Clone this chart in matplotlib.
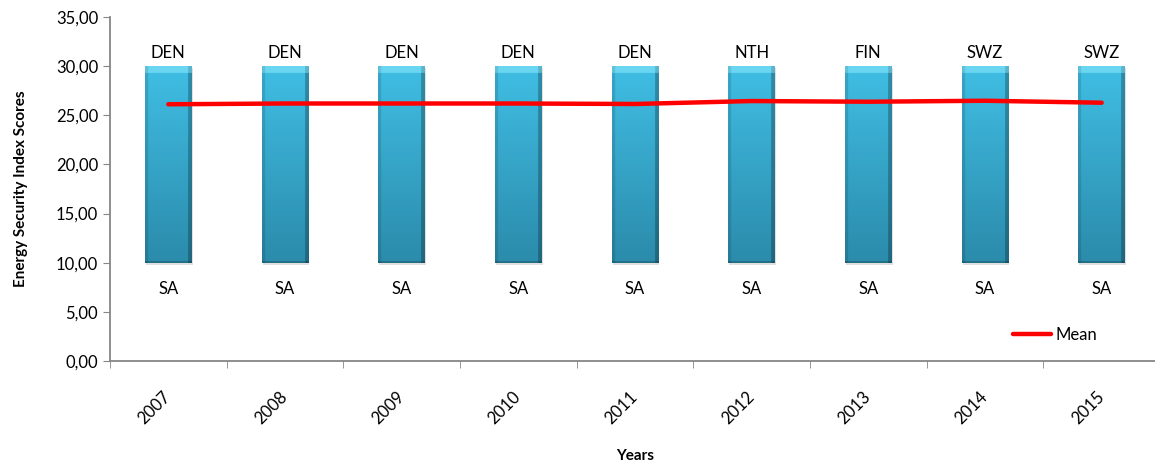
import matplotlib
matplotlib.use('Agg')
import matplotlib.pyplot as plt
import numpy as np
from matplotlib.colors import to_rgb
from matplotlib.ticker import FuncFormatter, FixedLocator

plt.rcParams['font.family'] = ['Lato', 'DejaVu Sans']

# data
years = ['2007', '2008', '2009', '2010', '2011', '2012', '2013', '2014', '2015']
max_score = [30.0, 30.0, 30.0, 30.0, 30.0, 30.0, 30.0, 30.0, 30.0]
min_score = [10.0, 10.0, 10.0, 10.0, 10.0, 10.0, 10.0, 10.0, 10.0]
best_country = ['DEN', 'DEN', 'DEN', 'DEN', 'DEN', 'NTH', 'FIN', 'SWZ', 'SWZ']
worst_country = ['SA', 'SA', 'SA', 'SA', 'SA', 'SA', 'SA', 'SA', 'SA']
mean_score = [26.12, 26.2, 26.2, 26.2, 26.15, 26.45, 26.38, 26.48, 26.28]


def bar_gradient(nx=60, ny=200):
    # vertical: dark at the bottom, light at the top
    top = np.array(to_rgb('#40bee4'))
    bot = np.array(to_rgb('#2b8bab'))
    t = np.linspace(0, 1, ny)[:, None, None]
    img = bot + (top - bot) * t
    img = np.repeat(img, nx, axis=1)
    # darker side edges (bevel)
    xs = np.linspace(0, 1, nx)
    edge = np.ones(nx)
    edge[xs < 0.06] = 0.88
    edge[xs > 0.93] = 0.74
    img = img * edge[None, :, None]
    # light cap on top
    cap = int(ny * 0.035)
    img[-cap:, :, :] = np.array(to_rgb('#6ad6f1'))
    img[-cap:, xs < 0.06, :] *= 0.9
    img[-cap:, xs > 0.93, :] *= 0.85
    # dark bottom rim
    img[:2, :, :] *= 0.8
    return np.clip(img, 0, 1)


fig = plt.figure(figsize=(11.55, 4.65), dpi=100)
ax = fig.add_axes([0.0952, 0.2237, 0.9091, 0.7397])

x = np.arange(len(years))
heights = np.array(max_score) - np.array(min_score)
bars = ax.bar(x, heights, bottom=min_score, width=0.4, color='#35a9cc',
              linewidth=0, zorder=2)

grad = bar_gradient()
for b in bars:
    x0, y0 = b.get_x(), b.get_y()
    w, h = b.get_width(), b.get_height()
    # soft shadow
    ax.add_patch(plt.Rectangle((x0 + 0.01, y0 - 0.2), w, h, color='#000000',
                               alpha=0.12, linewidth=0, zorder=1.5))
    im = ax.imshow(grad, extent=(x0, x0 + w, y0, y0 + h), origin='lower',
                   aspect='auto', zorder=2.5, interpolation='bilinear')
    im.set_clip_path(b)

ax.plot(x, mean_score, color='#ff0000', linewidth=3.2, label='Mean',
        solid_capstyle='round', zorder=3)

for i in range(len(years)):
    ax.annotate(best_country[i], (x[i], max_score[i]), xytext=(0, 4),
                textcoords='offset points', ha='center', va='bottom',
                fontsize=12, color='#000000')
    ax.annotate(worst_country[i], (x[i], min_score[i]), xytext=(0, -13),
                textcoords='offset points', ha='center', va='top',
                fontsize=12, color='#000000')

ax.set_xlim(-0.5, len(years) - 0.5)
ax.set_ylim(0, 35)
ax.set_yticks(np.arange(0, 36, 5))
ax.yaxis.set_major_formatter(FuncFormatter(lambda v, p: ('%.2f' % v).replace('.', ',')))
ax.set_xticks(x)
ax.set_xticklabels(years, rotation=45, fontsize=12, ha='right', va='center',
                   rotation_mode='anchor')
ax.xaxis.set_minor_locator(FixedLocator(np.arange(-0.5, len(years), 1.0)))
ax.tick_params(axis='x', which='major', length=0, pad=24)
ax.tick_params(axis='x', which='minor', length=5, color='#868686', direction='out')
ax.tick_params(axis='y', length=5, color='#868686', labelsize=12, direction='out')

for s in ['top', 'right']:
    ax.spines[s].set_visible(False)
for s in ['left', 'bottom']:
    ax.spines[s].set_color('#868686')
    ax.spines[s].set_linewidth(1.3)

ax.set_ylabel('Energy Security Index Scores', fontsize=11, fontweight='bold',
              labelpad=20)
ax.set_xlabel('Years', fontsize=11, fontweight='bold', labelpad=16)

ax.legend(loc='lower right', bbox_to_anchor=(0.955, 0.01), frameon=False,
          fontsize=12, handlelength=2.3, handletextpad=0.3)

fig.savefig('out.png', dpi=100)
